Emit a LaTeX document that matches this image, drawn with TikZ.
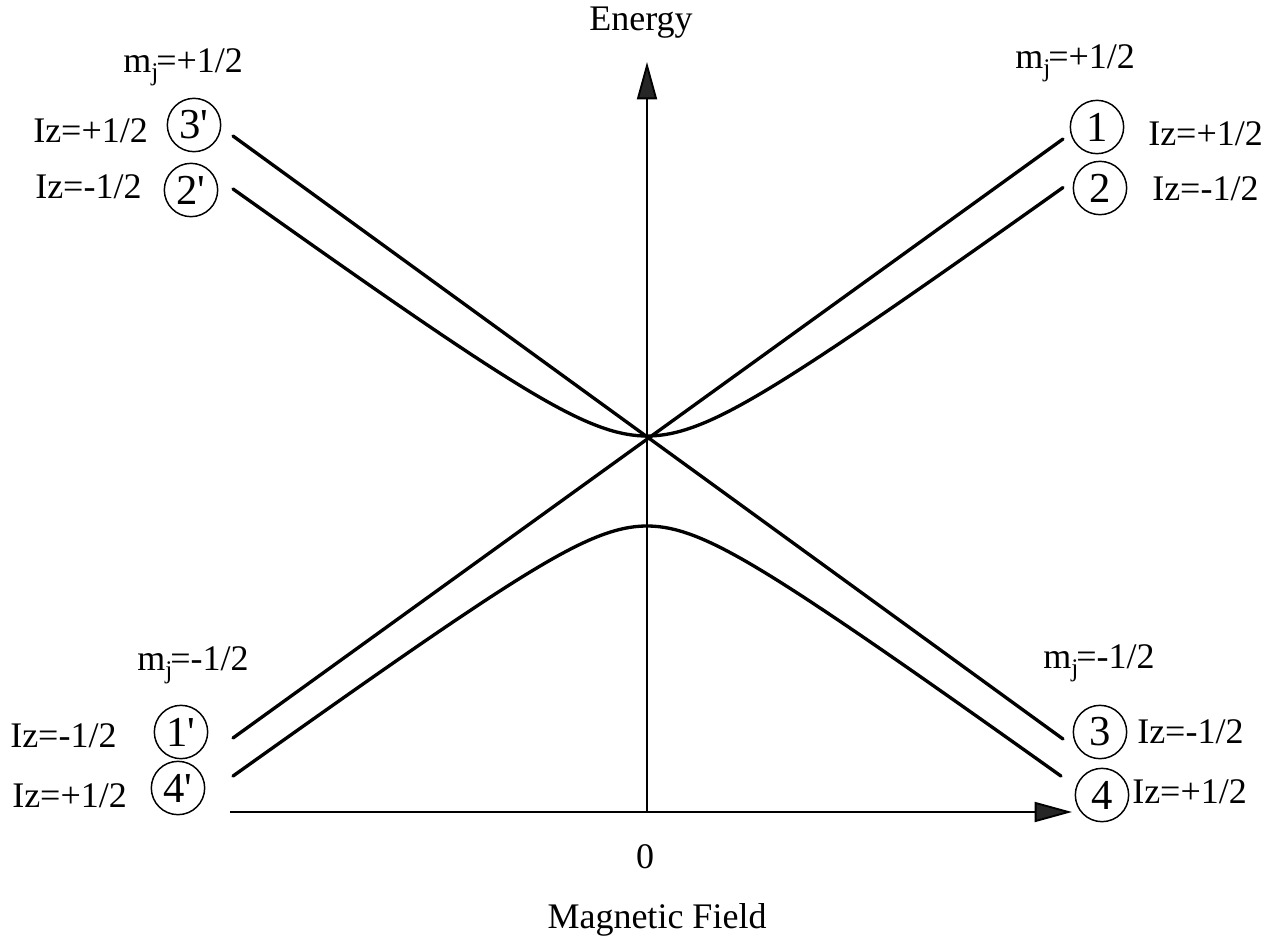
\documentclass[tikz,border=0pt]{standalone}
\usepackage{fontspec}
\setmainfont{Liberation Serif}
\usetikzlibrary{arrows.meta}
\newcommand{\mjlab}[1]{m\raisebox{-0.5ex}{\fontsize{19}{20}\selectfont j}\kern-1.5pt=#1}
\begin{document}
\begin{tikzpicture}[x=0.75pt,y=-0.75pt,
  lbl/.style={font=\fontsize{27}{30}\selectfont, inner sep=0pt, anchor=base west},
  ctr/.style={font=\fontsize{27}{30}\selectfont, inner sep=0pt, anchor=base},
  num/.style={draw, circle, line width=1.1pt, minimum size=40pt, inner sep=0pt, font=\fontsize{32}{34}\selectfont},
  level/.style={line width=2.5pt, line cap=round},
  axis/.style={line width=1.4pt, -{Triangle[length=28pt,width=15pt,fill=black!85]}}]
\useasboundingbox (0,0) rectangle (1283,939);

% axes
\coordinate (O) at (647,812);
\coordinate (ytip) at (647,62);
\coordinate (xs) at (230,812);
\coordinate (xtip) at (1072,812);
\draw[axis] (O) -- (ytip);
\draw[axis] (xs) -- (xtip);
\node[ctr] (energy) at (641,30) {Energy};
\node[ctr] (zero) at (645,868) {0};
\node[ctr] (field) at (657,928) {Magnetic Field};

% straight levels
\coordinate (a3p) at (233,136);
\coordinate (e3) at (1063,739);
\coordinate (a1p) at (233,738);
\coordinate (e1) at (1063,139);
\draw[level] (a3p) -- (e3);
\draw[level] (a1p) -- (e1);

% anticrossing levels
\draw[level] plot[domain=233:1063, samples=120, smooth]
  (\x, {494.7 - 100*sqrt(0.587^2 + (0.00725*(\x-647))^2)});
\draw[level] plot[domain=233:1061, samples=120, smooth]
  (\x, {471 + 100*sqrt(0.55^2 + (0.00725*(\x-647))^2)});

% left top labels
\node[lbl] (mjtl) at (123,72) {\mjlab{+1/2}};
\node[lbl] (iz3p) at (33,142) {Iz=+1/2};
\node[num] (n3p) at (194,125) {3\textquotesingle};
\node[lbl] (iz2p) at (35,198) {Iz=-1/2};
\node[num] (n2p) at (191,190) {2\textquotesingle};

% left bottom labels
\node[lbl] (mjbl) at (137,670) {\mjlab{-1/2}};
\node[lbl] (iz1p) at (10,747) {Iz=-1/2};
\node[num] (n1p) at (181,732) {1\textquotesingle};
\node[lbl] (iz4p) at (12,807) {Iz=+1/2};
\node[num] (n4p) at (178,788) {4\textquotesingle};

% right top labels
\node[lbl] (mjtr) at (1015,68) {\mjlab{+1/2}};
\node[num] (n1) at (1097,127) {1};
\node[lbl] (iz1) at (1148,145) {Iz=+1/2};
\node[num] (n2) at (1100,188) {2};
\node[lbl] (iz2) at (1152,200) {Iz=-1/2};

% right bottom labels
\node[lbl] (mjbr) at (1043,668) {\mjlab{-1/2}};
\node[num] (n3) at (1100,732) {3};
\node[lbl] (iz3) at (1137,743) {Iz=-1/2};
\node[num] (n4) at (1102,795) {4};
\node[lbl] (iz4) at (1132,803) {Iz=+1/2};
\end{tikzpicture}
\end{document}
